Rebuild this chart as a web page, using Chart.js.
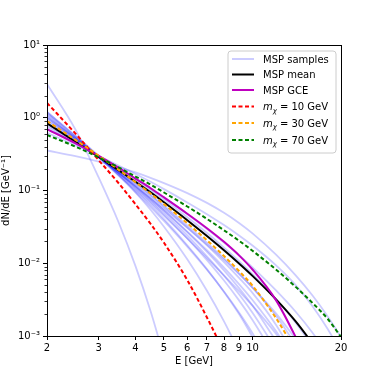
<!DOCTYPE html>
<html>
<head>
<meta charset="utf-8">
<script src="https://cdn.jsdelivr.net/npm/chart.js@4.4.1/dist/chart.umd.min.js"></script>
<style>
    html, body { margin: 0; padding: 0; background: #fff; }
</style>
</head>
<body>
<canvas id="specChart" width="379" height="379"></canvas>
<script>
// Energy grid [GeV] shared by all curves
const energies = [2, 2.5, 3, 3.5, 4, 4.5, 5, 6, 7, 8, 9, 10, 12, 14, 16, 18, 20];

// dN/dE (null = not drawn)
const mspMean = [0.84, 0.468, 0.29, 0.191, 0.132, 0.0945, 0.0689, 0.0391, 0.0237, 0.0151, 0.00994, 0.00671, 0.00321, 0.0016, 0.000794, null, null];
const mspGce  = [0.70, 0.445, 0.2996, 0.2064, 0.1457, 0.1075, 0.0804, 0.048, 0.0303, 0.0197, 0.01284, 0.0082, 0.00314, 0.00098, 0.000306, null, null];
const dm10    = [1.6, 0.605, 0.26, 0.1268, 0.0646, 0.0349, 0.0191, 0.00588, 0.0018, 0.000601, null, null, null, null, null, null, null];
const dm30    = [0.901, 0.497, 0.2996, 0.1937, 0.13, 0.0909, 0.065, 0.0356, 0.0207, 0.01256, 0.00781, 0.00492, 0.00178, 0.000636, null, null, null];
const dm70    = [0.58, 0.401, 0.285, 0.2084, 0.1557, 0.1205, 0.0939, 0.0603, 0.0407, 0.0284, 0.0204, 0.01485, 0.00824, 0.00477, 0.00285, 0.00173, 0.00097];

const mspSamples = [
    [2.91, 0.688, 0.15, 0.0369, 0.00912, 0.0022, 0.000515, null, null, null, null, null, null, null, null, null, null],
    [0.355, 0.297, 0.25, 0.2103, 0.1773, 0.1494, 0.1264, 0.0921, 0.0676, 0.0494, 0.0358, 0.0257, 0.0132, 0.00686, 0.0036, 0.00187, 0.000966],
    [0.62, 0.418, 0.298, 0.2205, 0.1685, 0.1317, 0.1045, 0.0686, 0.0473, 0.0335, 0.0241, 0.0175, 0.00942, 0.00505, 0.00257, 0.00126, 0.000599],
    [1.2, 0.568, 0.299, 0.1654, 0.0939, 0.0543, 0.0318, 0.01135, 0.00419, 0.00159, 0.000616, null, null, null, null, null, null],
    [1.1, 0.525, 0.282, 0.1643, 0.1003, 0.063, 0.0405, 0.0177, 0.0083, 0.00403, 0.002, 0.000966, 0.000238, null, null, null, null],
    [1.0, 0.523, 0.294, 0.1745, 0.1085, 0.0702, 0.0465, 0.0219, 0.01103, 0.00579, 0.00309, 0.00166, 0.000494, null, null, null, null],
    [0.95, 0.505, 0.289, 0.175, 0.1113, 0.0733, 0.0496, 0.0241, 0.01244, 0.00673, 0.00374, 0.00209, 0.000667, null, null, null, null],
    [0.85, 0.479, 0.286, 0.178, 0.1156, 0.0776, 0.0533, 0.0267, 0.01429, 0.00799, 0.00456, 0.00262, 0.000865, null, null, null, null],
    [1.149, 0.548, 0.291, 0.1685, 0.1039, 0.0671, 0.0449, 0.022, 0.01178, 0.00682, 0.00414, 0.00261, 0.00108, 0.000449, null, null, null],
    [0.901, 0.497, 0.297, 0.187, 0.1236, 0.0845, 0.0593, 0.0312, 0.0176, 0.01039, 0.0063, 0.00391, 0.00144, 0.0005, null, null, null],
    [0.799, 0.465, 0.289, 0.1865, 0.1252, 0.0867, 0.0616, 0.0332, 0.0192, 0.01164, 0.00727, 0.00462, 0.00191, 0.000772, null, null, null],
    [1.049, 0.528, 0.293, 0.178, 0.1156, 0.0791, 0.0562, 0.0307, 0.0181, 0.01117, 0.0071, 0.00464, 0.00206, 0.000918, null, null, null],
    [0.75, 0.461, 0.299, 0.2018, 0.1416, 0.1019, 0.075, 0.0428, 0.026, 0.01643, 0.01072, 0.0071, 0.00325, 0.00154, 0.000727, null, null],
    [1.2, 0.553, 0.285, 0.1597, 0.0954, 0.0593, 0.0381, 0.01696, 0.00814, 0.00409, 0.0021, 0.00109, 0.000299, null, null, null, null],
    [1.0, 0.513, 0.291, 0.1768, 0.1138, 0.0764, 0.053, 0.0272, 0.01509, 0.00873, 0.00518, 0.00313, 0.00118, 0.000451, null, null, null],
    [0.70, 0.445, 0.297, 0.2057, 0.1476, 0.1082, 0.0809, 0.0475, 0.0296, 0.01924, 0.01288, 0.00876, 0.00426, 0.00217, 0.00111, 0.000557, null],
];

// Axis ticks
const xTicks = [2, 3, 4, 5, 6, 7, 8, 9, 10, 20];
const yTicks = [1e-3, 1e-2, 1e-1, 1, 10];
const yTickLabels = ['10⁻³', '10⁻²', '10⁻¹', '10⁰', '10¹'];

// Legend
const legendLabels = ['MSP samples', 'MSP mean', 'MSP GCE'];
const dmMasses = [10, 30, 70];

const FONT = 'DejaVu Sans';
Chart.defaults.font.family = FONT;
Chart.defaults.font.size = 10;
Chart.defaults.color = '#000';

const pts = vals => energies.map((e, i) => ({ x: e, y: vals[i] })).filter(p => p.y != null);

const baseLine = {
    pointRadius: 0,
    borderWidth: 2,
    fill: false,
    cubicInterpolationMode: 'monotone',
};

const datasets = [];
mspSamples.forEach(s => {
    datasets.push({ ...baseLine, data: pts(s), borderColor: 'rgba(0, 0, 255, 0.2)', borderWidth: 1.8, order: 10 });
});
datasets.push({ ...baseLine, data: pts(mspMean), borderColor: '#000000', order: 5 });
datasets.push({ ...baseLine, data: pts(mspGce), borderColor: '#bf00bf', order: 4 });
datasets.push({ ...baseLine, data: pts(dm10), borderColor: '#ff0000', borderDash: [4, 2.5], order: 3 });
datasets.push({ ...baseLine, data: pts(dm30), borderColor: '#ffa500', borderDash: [4, 2.5], order: 2 });
datasets.push({ ...baseLine, data: pts(dm70), borderColor: '#008000', borderDash: [4, 2.5], order: 1 });

const legendItems = [
    { label: legendLabels[0], color: 'rgba(0, 0, 255, 0.2)', dash: [] },
    { label: legendLabels[1], color: '#000000', dash: [] },
    { label: legendLabels[2], color: '#bf00bf', dash: [] },
    { mass: dmMasses[0], color: '#ff0000', dash: [4, 2.5] },
    { mass: dmMasses[1], color: '#ffa500', dash: [4, 2.5] },
    { mass: dmMasses[2], color: '#008000', dash: [4, 2.5] },
];
const legendBaselines = [17.5, 33, 48.5, 65, 81.5, 98.5];

// Frame, minor ticks and matplotlib-style legend
const decorPlugin = {
    id: 'decor',
    afterDraw(chart) {
        const { ctx, chartArea: a, scales } = chart;
        ctx.save();

        // minor y ticks
        ctx.strokeStyle = '#000';
        ctx.lineWidth = 0.8;
        for (let k = -3; k < 1; k++) {
            for (let m = 2; m <= 9; m++) {
                const py = Math.round(scales.y.getPixelForValue(m * Math.pow(10, k))) + 0.5;
                ctx.beginPath();
                ctx.moveTo(a.left - 2.5, py);
                ctx.lineTo(a.left, py);
                ctx.stroke();
            }
        }

        // frame
        ctx.lineWidth = 1;
        ctx.strokeStyle = '#000';
        ctx.strokeRect(Math.round(a.left) + 0.5, Math.round(a.top) + 0.5,
            Math.round(a.right - a.left), Math.round(a.bottom - a.top));

        // legend box
        const bx = a.right - 113, by = a.top + 6, bw = 108, bh = 102, r = 3;
        ctx.beginPath();
        ctx.moveTo(bx + r, by);
        ctx.arcTo(bx + bw, by, bx + bw, by + bh, r);
        ctx.arcTo(bx + bw, by + bh, bx, by + bh, r);
        ctx.arcTo(bx, by + bh, bx, by, r);
        ctx.arcTo(bx, by, bx + bw, by, r);
        ctx.closePath();
        ctx.fillStyle = 'rgba(255, 255, 255, 0.8)';
        ctx.fill();
        ctx.strokeStyle = '#cccccc';
        ctx.lineWidth = 1;
        ctx.stroke();

        legendItems.forEach((item, i) => {
            const base = a.top + legendBaselines[i];
            const ly = base - 3.5;
            ctx.beginPath();
            ctx.setLineDash(item.dash);
            ctx.strokeStyle = item.color;
            ctx.lineWidth = 2;
            ctx.moveTo(bx + 4, ly);
            ctx.lineTo(bx + 26, ly);
            ctx.stroke();
            ctx.setLineDash([]);

            let tx = bx + 35;
            ctx.fillStyle = '#000';
            ctx.textBaseline = 'alphabetic';
            ctx.textAlign = 'left';
            if (item.mass) {
                ctx.font = `italic 10px "${FONT}"`;
                ctx.fillText('m', tx, base);
                tx += ctx.measureText('m').width;
                ctx.font = `italic 7px "${FONT}"`;
                ctx.fillText('χ', tx, base + 2.5);
                tx += ctx.measureText('χ').width + 1;
                ctx.font = `10px "${FONT}"`;
                ctx.fillText('= ' + item.mass + ' GeV', tx + 2, base);
            } else {
                ctx.font = `10px "${FONT}"`;
                ctx.fillText(item.label, tx, base);
            }
        });
        ctx.restore();
    }
};

new Chart(document.getElementById('specChart').getContext('2d'), {
    type: 'line',
    data: { datasets },
    options: {
        responsive: false,
        devicePixelRatio: 1,
        animation: false,
        layout: { padding: { left: 0, top: 45, right: 38, bottom: 0 } },
        plugins: {
            legend: { display: false },
            tooltip: { enabled: false },
        },
        scales: {
            x: {
                type: 'logarithmic',
                min: 2,
                max: 20,
                afterBuildTicks: s => { s.ticks = xTicks.map(v => ({ value: v })); },
                afterFit: s => { s.height = 43; },
                ticks: {
                    color: '#000',
                    padding: 2,
                    autoSkip: false,
                    maxRotation: 0,
                    callback: v => String(v),
                },
                grid: { drawOnChartArea: false, tickLength: 4, color: '#000' },
                border: { color: '#000' },
                title: { display: true, text: 'E [GeV]', color: '#000', padding: { top: 0, bottom: 12 } },
            },
            y: {
                type: 'logarithmic',
                min: 1e-3,
                max: 10,
                afterBuildTicks: s => { s.ticks = yTicks.map(v => ({ value: v })); },
                afterFit: s => { s.width = 47; },
                ticks: {
                    color: '#000',
                    padding: 3,
                    autoSkip: false,
                    callback: (v, i) => yTickLabels[i],
                },
                grid: { drawOnChartArea: false, tickLength: 4, color: '#000' },
                border: { color: '#000' },
                title: { display: true, text: 'dN/dE [GeV⁻¹]', color: '#000', padding: { top: 0, bottom: 0 } },
            },
        },
    },
    plugins: [decorPlugin],
});
</script>
</body>
</html>
